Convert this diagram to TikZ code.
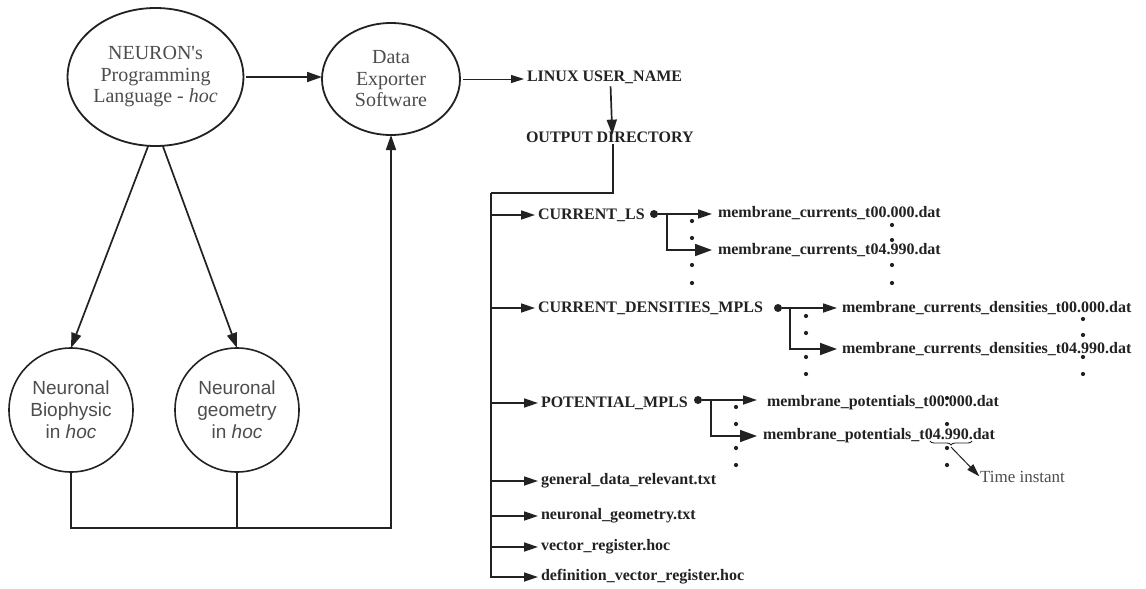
\documentclass[tikz,border=0pt]{standalone}
\usepackage{fontspec}
\setmainfont{Liberation Serif}
\newfontfamily\sansf{Liberation Sans}
\usetikzlibrary{arrows.meta,shapes.geometric,decorations.pathreplacing}
\definecolor{ink}{HTML}{222222}
\definecolor{txtgray}{HTML}{4D4D4D}
\begin{document}
\begin{tikzpicture}[x=1pt,y=-1pt,
  every node/.style={inner sep=0pt, outer sep=0pt},
  oval/.style={draw=ink, line width=1.8pt, ellipse, text=txtgray, align=center,
    font=\fontsize{20}{21.5}\selectfont},
  cell/.style={draw=ink, line width=1.6pt, circle, minimum size=124pt, text=txtgray,
    align=center, font=\sansf\fontsize{19}{22}\selectfont},
  lbl/.style={anchor=west, text=ink, font=\bfseries\fontsize{16}{18}\selectfont},
  conn/.style={draw=ink, line width=1.7pt},
  arr/.style={conn, -{Triangle[length=15pt,width=10pt]}},
  tarr/.style={conn, -{Triangle[length=14pt,width=9pt]}, shorten >=3pt},
  barrA/.style={conn, -{Triangle[length=14pt,width=9pt]}},
  barrB/.style={conn, -{Triangle[length=17pt,width=12pt]}},
  thinarr/.style={draw=ink, line width=1pt, -{Triangle[length=13pt,width=8pt]}},
  bullet/.style={circle, fill=ink, minimum size=8pt},
  dotm/.style={fill=ink}
]
\useasboundingbox (0,0) rectangle (1146,589);
\fill[white] (0,0) rectangle (1146,589);

% left part
\node[oval, minimum width=167pt, minimum height=138pt] (neuron) at (155.5,77)
  {NEURON\textquotesingle s\\Programming\\Language - \textit{hoc}};
\node[oval, minimum width=138pt, minimum height=112pt] (data) at (391,79)
  {Data\\Exporter\\Software};
\node[cell] (bio) at (71,410) {Neuronal\\Biophysic\\in \textit{hoc}};
\node[cell] (geo) at (237,410) {Neuronal\\geometry\\in \textit{hoc}};

\draw[arr, shorten <=3pt] (neuron.east) -- (neuron.east -| data.west);
\draw[arr] (neuron.264) -- (bio.north);
\draw[arr] (neuron.276) -- (geo.north);
\coordinate (bot) at (391,528);
\draw[arr] (bio.south) |- (bot) -- (data.south);
\draw[conn] (geo.south) -- (geo.south |- bot);

% right part
\node[lbl] (linux) at (527,77) {LINUX USER\_NAME};
\node[lbl] (outdir) at (526,137) {OUTPUT DIRECTORY};
\draw[thinarr, shorten <=3pt, shorten >=3pt] (data.east) -- (data.east -| linux.west);
\draw[arr] ([xshift=6pt,yshift=-3pt]linux.south) -- ([xshift=2.5pt,yshift=-3pt]outdir.north);

\coordinate (tr) at (491,193);
\draw[conn] ([xshift=3.5pt,yshift=-2pt]outdir.south) |- (tr);

\node[lbl] (curls) at (538,215) {CURRENT\_LS};
\node[lbl] (curd)  at (538,308) {CURRENT\_DENSITIES\_MPLS};
\node[lbl] (pot)   at (541,403) {POTENTIAL\_MPLS};
\node[lbl] (gen)   at (541,481) {general\_data\_relevant.txt};
\node[lbl] (geom)  at (541,516) {neuronal\_geometry.txt};
\node[lbl] (vec)   at (541,547) {vector\_register.hoc};
\node[lbl] (defn)  at (541,577) {definition\_vector\_register.hoc};

\draw[tarr] (tr) |- (defn.west);
\foreach \n in {curls,curd,pot,gen,geom,vec}
  \draw[tarr] (\n.west -| tr) -- (\n.west);

% CURRENT_LS branch
\node[bullet] (j1) at (654,214) {};
\coordinate (k1) at (667,214);
\node[lbl] (f1a) at (718,213) {membrane\_currents\_t00.000.dat};
\node[lbl] (f1b) at (718,250) {membrane\_currents\_t04.990.dat};
\draw[barrA, shorten >=6pt] (j1) -- (j1 -| f1a.west);
\draw[barrB, shorten >=6pt] (k1) |- (f1b.west);

% CURRENT_DENSITIES branch
\node[bullet] (j2) at (778,308) {};
\coordinate (k2) at (790,308);
\node[lbl] (f2a) at (842,308) {membrane\_currents\_densities\_t00.000.dat};
\node[lbl] (f2b) at (842,349) {membrane\_currents\_densities\_t04.990.dat};
\draw[barrA, shorten >=5pt] (j2) -- (j2 -| f2a.west);
\draw[barrB, shorten >=5pt] (k2) |- (f2b.west);

% POTENTIAL branch
\node[bullet] (j3) at (698,400) {};
\coordinate (k3) at (711,400);
\node[lbl] (f3a) at (767,403) {membrane\_potentials\_t00.000.dat};
\node[lbl] (f3b) at (763,436) {membrane\_potentials\_t04.990.dat};
\draw[barrA, shorten >=10pt] (j3) -- (j3 -| f3a.west);
\draw[barrB, shorten >=6pt] (k3) |- (f3b.west);

% ellipsis dots
\foreach \x/\y in {692/221,692/238,692/265,692/283,
                   892/225,892/240,892/265,892/283,
                   806/316,806/333,806/357,806/374,
                   1083/319,1083/335,1083/357,1083/374,
                   736/407,736/424,736/448,736/465,
                   947/398,947/424,947/448,947/465}
  \fill[dotm] (\x,\y) circle[radius=2.1pt];

% time instant
\draw[ink, line width=0.9pt, decorate, decoration={brace, amplitude=4pt, mirror}]
  (930,441) -- (972,441);
\coordinate (bt) at (951,447);
\node[anchor=west, text=txtgray, font=\fontsize{17}{17}\selectfont] (time) at (980,477) {Time instant};
\draw[thinarr, shorten >=1pt] (bt) -- (time.west);
\end{tikzpicture}
\end{document}
